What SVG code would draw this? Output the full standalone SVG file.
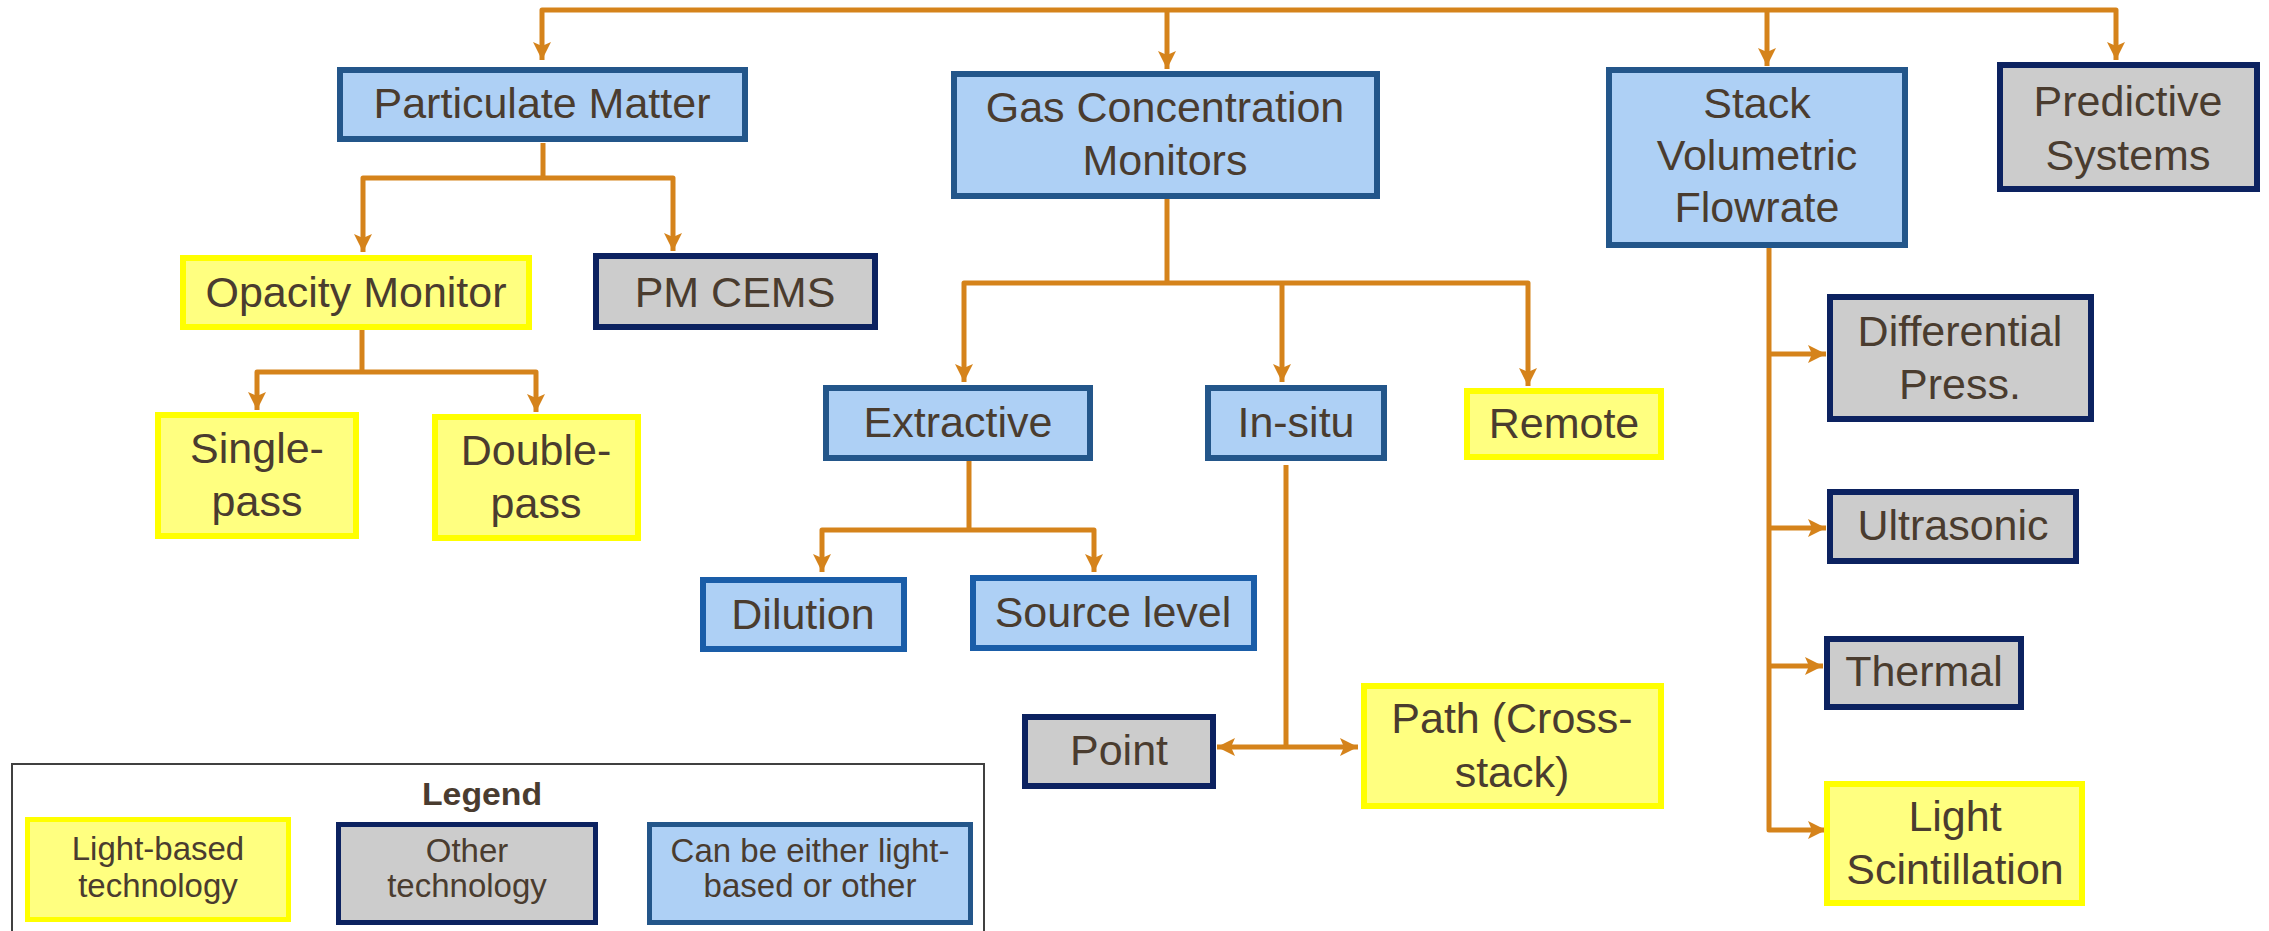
<svg xmlns="http://www.w3.org/2000/svg" width="2269" height="931" viewBox="0 0 2269 931">
<style>
  .blue{fill:#aed0f5;stroke:#23568a;stroke-width:6}
  .blue2{fill:#aed0f5;stroke:#1a5da8;stroke-width:6}
  .gray{fill:#cccccc;stroke:#0c2260;stroke-width:6}
  .yellow{fill:#ffff80;stroke:#ffff00;stroke-width:6}
  .lblue{fill:#aed0f5;stroke:#23568a;stroke-width:5}
  .lgray{fill:#cccccc;stroke:#0c2260;stroke-width:5}
  .lyellow{fill:#ffff80;stroke:#ffff00;stroke-width:5}
  text{font-family:"Liberation Sans",Arial,sans-serif;font-size:43px;fill:#4a3c2f;text-anchor:middle}
  .lt{font-size:33px}
  .lh{font-size:31px;font-weight:bold}
  .c{fill:none;stroke:#d5831b;stroke-width:5;stroke-linejoin:round}
</style>
<defs>
  <marker id="ah" markerUnits="userSpaceOnUse" markerWidth="20" markerHeight="20" viewBox="0 0 20 20" refX="18" refY="10" orient="auto-start-reverse">
    <path d="M0,1 L18,10 L0,19 L4,10 Z" fill="#d5831b"/>
  </marker>
</defs>

<g id="connectors">
  <path class="c" d="M542,60 V10 H2116 V60" marker-start="url(#ah)" marker-end="url(#ah)"/>
  <path class="c" d="M1167,10 V69" marker-end="url(#ah)"/>
  <path class="c" d="M1767,10 V66" marker-end="url(#ah)"/>
  <path class="c" d="M543,143 V178"/>
  <path class="c" d="M363,252 V178 H673 V251" marker-start="url(#ah)" marker-end="url(#ah)"/>
  <path class="c" d="M362,330 V372"/>
  <path class="c" d="M257,410 V372 H536 V412" marker-start="url(#ah)" marker-end="url(#ah)"/>
  <path class="c" d="M1167,199 V283"/>
  <path class="c" d="M964,382 V283 H1528 V386" marker-start="url(#ah)" marker-end="url(#ah)"/>
  <path class="c" d="M1282,283 V382" marker-end="url(#ah)"/>
  <path class="c" d="M969,461 V530"/>
  <path class="c" d="M822,572 V530 H1094 V572" marker-start="url(#ah)" marker-end="url(#ah)"/>
  <path class="c" d="M1286,465 V747"/>
  <path class="c" d="M1217,747 H1358" marker-start="url(#ah)" marker-end="url(#ah)"/>
  <path class="c" d="M1769,248 V830 H1826" marker-end="url(#ah)"/>
  <path class="c" d="M1769,354 H1826" marker-end="url(#ah)"/>
  <path class="c" d="M1769,528 H1826" marker-end="url(#ah)"/>
  <path class="c" d="M1769,666 H1823" marker-end="url(#ah)"/>
</g>

<g id="particulate-matter">
  <rect class="blue" x="340" y="70" width="405" height="69"/>
  <text x="542" y="118">Particulate Matter</text>
</g>
<g id="gas-concentration-monitors">
  <rect class="blue" x="954" y="74" width="423" height="122"/>
  <text x="1165" y="122">Gas Concentration</text>
  <text x="1165" y="175">Monitors</text>
</g>
<g id="stack-volumetric-flowrate">
  <rect class="blue" x="1609" y="70" width="296" height="175"/>
  <text x="1757" y="118">Stack</text>
  <text x="1757" y="170">Volumetric</text>
  <text x="1757" y="222">Flowrate</text>
</g>
<g id="predictive-systems">
  <rect class="gray" x="2000" y="65" width="257" height="124"/>
  <text x="2128" y="116">Predictive</text>
  <text x="2128" y="170">Systems</text>
</g>
<g id="opacity-monitor">
  <rect class="yellow" x="183" y="258" width="346" height="69"/>
  <text x="356" y="307">Opacity Monitor</text>
</g>
<g id="pm-cems">
  <rect class="gray" x="596" y="256" width="279" height="71"/>
  <text x="735" y="307">PM CEMS</text>
</g>
<g id="single-pass">
  <rect class="yellow" x="158" y="415" width="198" height="121"/>
  <text x="257" y="463">Single-</text>
  <text x="257" y="516">pass</text>
</g>
<g id="double-pass">
  <rect class="yellow" x="435" y="417" width="203" height="121"/>
  <text x="536" y="465">Double-</text>
  <text x="536" y="518">pass</text>
</g>
<g id="extractive">
  <rect class="blue" x="826" y="388" width="264" height="70"/>
  <text x="958" y="437">Extractive</text>
</g>
<g id="in-situ">
  <rect class="blue" x="1208" y="388" width="176" height="70"/>
  <text x="1296" y="437">In-situ</text>
</g>
<g id="remote">
  <rect class="yellow" x="1467" y="391" width="194" height="66"/>
  <text x="1564" y="438">Remote</text>
</g>
<g id="dilution">
  <rect class="blue2" x="703" y="580" width="201" height="69"/>
  <text x="803" y="629">Dilution</text>
</g>
<g id="source-level">
  <rect class="blue2" x="973" y="578" width="281" height="70"/>
  <text x="1113" y="627">Source level</text>
</g>
<g id="point">
  <rect class="gray" x="1025" y="717" width="188" height="69"/>
  <text x="1119" y="765">Point</text>
</g>
<g id="path-cross-stack">
  <rect class="yellow" x="1364" y="686" width="297" height="120"/>
  <text x="1512" y="733">Path (Cross-</text>
  <text x="1512" y="787">stack)</text>
</g>
<g id="differential-press">
  <rect class="gray" x="1830" y="297" width="261" height="122"/>
  <text x="1960" y="346">Differential</text>
  <text x="1960" y="399">Press.</text>
</g>
<g id="ultrasonic">
  <rect class="gray" x="1830" y="492" width="246" height="69"/>
  <text x="1953" y="540">Ultrasonic</text>
</g>
<g id="thermal">
  <rect class="gray" x="1827" y="639" width="194" height="68"/>
  <text x="1924" y="686">Thermal</text>
</g>
<g id="light-scintillation">
  <rect class="yellow" x="1827" y="784" width="255" height="119"/>
  <text x="1955" y="831">Light</text>
  <text x="1955" y="884">Scintillation</text>
</g>

<g id="legend">
  <rect x="12" y="764" width="972" height="180" fill="#ffffff" stroke="#404040" stroke-width="2"/>
  <text class="lh" x="482" y="805" textLength="120" lengthAdjust="spacingAndGlyphs">Legend</text>
  <rect class="lyellow" x="27.5" y="819.5" width="261" height="100"/>
  <text class="lt" x="158" y="860">Light-based</text>
  <text class="lt" x="158" y="897">technology</text>
  <rect class="lgray" x="338.5" y="824.5" width="257" height="98"/>
  <text class="lt" x="467" y="862">Other</text>
  <text class="lt" x="467" y="897">technology</text>
  <rect class="lblue" x="649.5" y="824.5" width="321" height="98"/>
  <text class="lt" x="810" y="862">Can be either light-</text>
  <text class="lt" x="810" y="897">based or other</text>
</g>
</svg>
